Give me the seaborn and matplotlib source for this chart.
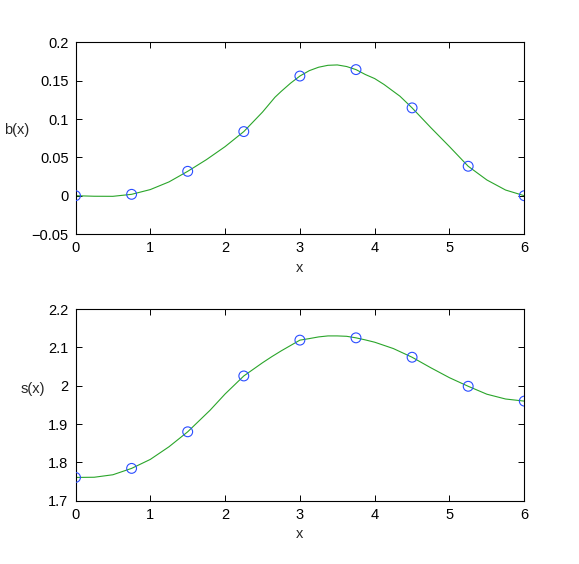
import numpy as np
import pandas as pd
import matplotlib
matplotlib.use("Agg")
import matplotlib.pyplot as plt
import seaborn as sns

# sample points (circles)
x_pts = [0, 0.75, 1.5, 2.25, 3.0, 3.75, 4.5, 5.25, 6.0]
b_pts = [0.0, 0.0018, 0.0318, 0.0836, 0.156, 0.1644, 0.1145, 0.0384, 0.0]
s_pts = [1.761, 1.7846, 1.880, 2.0256, 2.119, 2.125, 2.0744, 1.9987, 1.960]

# curve values
xb_curve = [0, 0.25, 0.5, 0.75, 1.0, 1.25, 1.5, 1.75, 2.0, 2.25, 2.5, 2.667,
            2.75, 2.875, 3.0, 3.125, 3.25, 3.375, 3.5, 3.625, 3.75, 3.875,
            4.0, 4.125, 4.25, 4.338, 4.5, 4.75, 5.0, 5.25, 5.5, 5.75, 6.0]
b_curve = [0.0, -0.0007, -0.0008, 0.0018, 0.008, 0.018, 0.0318, 0.047, 0.064,
           0.0836, 0.109, 0.1284, 0.136, 0.1467, 0.156, 0.163, 0.1675, 0.170,
           0.1705, 0.1684, 0.1644, 0.158, 0.1527, 0.145, 0.136, 0.1297,
           0.1145, 0.0888, 0.064, 0.0384, 0.0205, 0.0074, 0.0]
xs_curve = [0, 0.25, 0.5, 0.75, 1.0, 1.25, 1.5, 1.75, 1.798, 2.0, 2.25, 2.5,
            2.625, 2.75, 2.875, 3.0, 3.125, 3.25, 3.375, 3.5, 3.625, 3.75,
            3.875, 4.0, 4.25, 4.5, 4.75, 5.0, 5.25, 5.5, 5.75, 6.0]
s_curve = [1.761, 1.7615, 1.768, 1.7846, 1.808, 1.841, 1.880, 1.927, 1.936,
           1.9786, 2.0256, 2.060, 2.076, 2.091, 2.105, 2.119, 2.123, 2.1274,
           2.130, 2.130, 2.129, 2.125, 2.1196, 2.1136, 2.097, 2.0744, 2.047,
           2.021, 1.9987, 1.978, 1.9655, 1.960]

b_ticks = [-0.05, 0, 0.05, 0.1, 0.15, 0.2]
b_ticklabels = ["\u22120.05", "0", "0.05", "0.1", "0.15", "0.2"]
s_ticks = [1.7, 1.8, 1.9, 2.0, 2.1, 2.2]
s_ticklabels = ["1.7", "1.8", "1.9", "2", "2.1", "2.2"]
x_ticks = [0, 1, 2, 3, 4, 5, 6]

sns.set_theme(style="ticks")
plt.rcParams["font.family"] = ["Liberation Sans", "DejaVu Sans"]
plt.rcParams["font.size"] = 10.5

fig = plt.figure(figsize=(5.79, 5.64), dpi=100)
ax1 = fig.add_axes([0.1304, 0.585, 0.7751, 0.340])
ax2 = fig.add_axes([0.1304, 0.112, 0.7751, 0.340])

line_color = "#2aa52a"
circ_color = "#2a4dff"

def draw(ax, xc, yc, yp, ylabel, yticks, yticklabels, ylim, lab_xy):
    dfc = pd.DataFrame({"x": xc, "y": yc})
    dfp = pd.DataFrame({"x": x_pts, "y": yp})
    sns.lineplot(data=dfc, x="x", y="y", ax=ax, color=line_color, lw=0.8)
    sns.scatterplot(data=dfp, x="x", y="y", ax=ax, marker="o", s=50,
                    facecolors="none", edgecolor=circ_color, linewidth=0.8,
                    zorder=3)
    ax.set_xlim(0, 6)
    ax.set_ylim(*ylim)
    ax.set_xticks(x_ticks)
    ax.set_xticklabels([str(t) for t in x_ticks])
    ax.set_yticks(yticks)
    ax.set_yticklabels(yticklabels)
    ax.tick_params(direction="in", length=4, width=0.7, top=True, right=True,
                   labelsize=10.5, colors="black", pad=5)
    for sp in ax.spines.values():
        sp.set_visible(True)
        sp.set_linewidth(0.8)
        sp.set_color("black")
    ax.set_xlabel("x", fontsize=10.5, labelpad=4)
    ax.set_ylabel(ylabel, fontsize=10.5, rotation=0, va="center", ha="center")
    ax.yaxis.set_label_coords(*lab_xy)
    ax.grid(False)

draw(ax1, xb_curve, b_curve, b_pts, "b(x)", b_ticks, b_ticklabels,
     (-0.05, 0.2), (-0.132, 0.543))
draw(ax2, xs_curve, s_curve, s_pts, "s(x)", s_ticks, s_ticklabels,
     (1.7, 2.2), (-0.096, 0.581))

fig.savefig("out.png", dpi=100)
